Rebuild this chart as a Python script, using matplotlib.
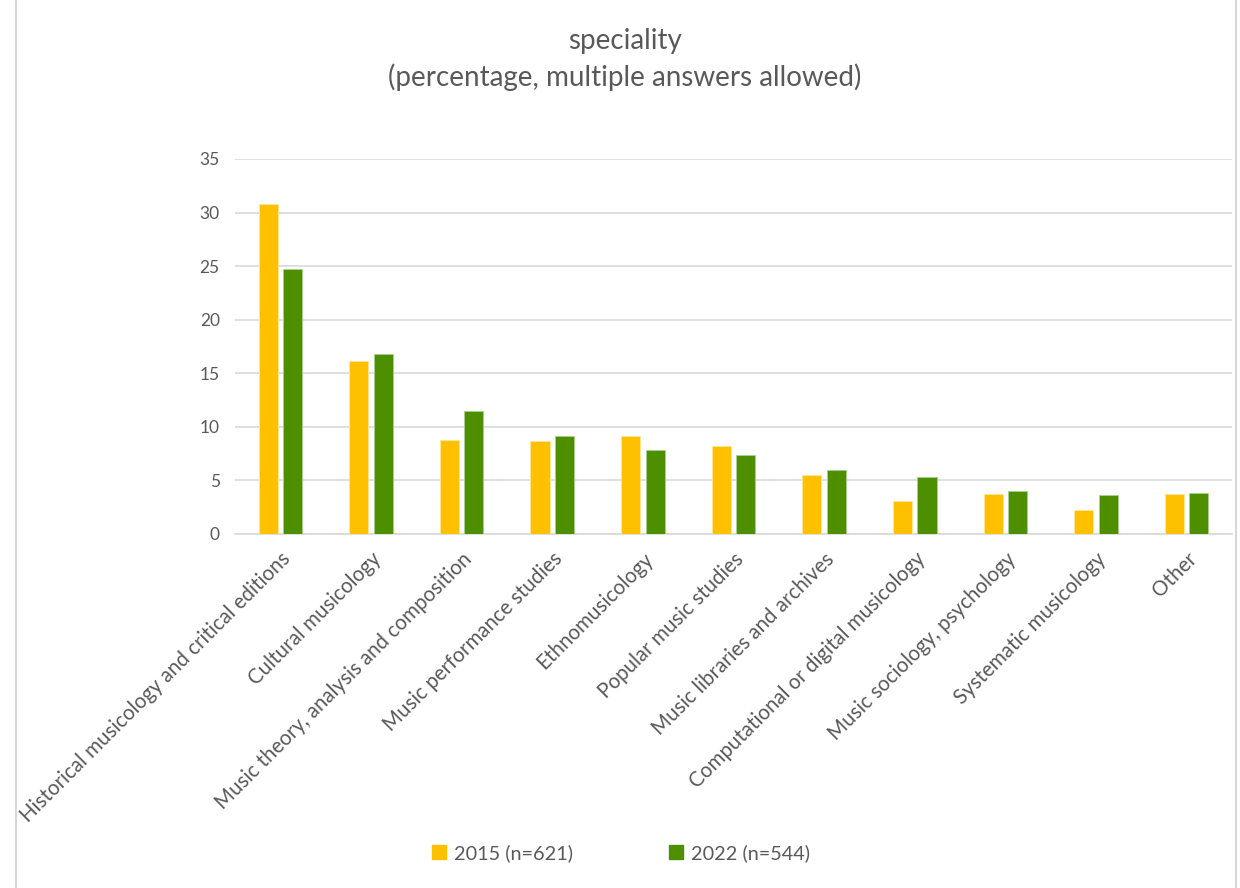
import matplotlib
matplotlib.use("Agg")
import matplotlib.pyplot as plt
import numpy as np
from matplotlib.lines import Line2D
from matplotlib.transforms import ScaledTranslation

plt.rcParams['font.family'] = ['Lato', 'DejaVu Sans']

categories = [
    'Historical musicology and critical editions',
    'Cultural musicology',
    'Music theory, analysis and composition',
    'Music performance studies',
    'Ethnomusicology',
    'Popular music studies',
    'Music libraries and archives',
    'Computational or digital musicology',
    'Music sociology, psychology',
    'Systematic musicology',
    'Other',
]
vals_2015 = [30.8, 16.1, 8.8, 8.7, 9.1, 8.2, 5.5, 3.1, 3.7, 2.2, 3.7]
vals_2022 = [24.7, 16.8, 11.5, 9.1, 7.8, 7.4, 6.0, 5.3, 4.0, 3.6, 3.8]
series_labels = ['2015 (n=621)', '2022 (n=544)']
yticks = [0, 5, 10, 15, 20, 25, 30, 35]

text_col = '#595959'
grid_col = '#d9d9d9'
yellow = '#ffc000'
green = '#4e8f00'

fig = plt.figure(figsize=(12.4, 8.88), dpi=100)
ax = fig.add_axes([235 / 1240, 1 - 534 / 888, (1232 - 235) / 1240, (534 - 159) / 888])

x = np.arange(len(categories))
w = 0.21
off = 0.135
ax.bar(x - off, vals_2015, w, color=yellow, edgecolor='#ffe699', linewidth=0.6, zorder=3)
ax.bar(x + off, vals_2022, w, color=green, edgecolor='#a9d08e', linewidth=0.6, zorder=3)

ax.set_xlim(-0.5, len(categories) - 0.5)
ax.set_ylim(0, 35)
ax.set_yticks(yticks)
ax.set_yticklabels([str(t) for t in yticks], color=text_col, fontsize=12.5)
ax.yaxis.grid(True, color=grid_col, linewidth=1.2, zorder=0)
ax.tick_params(axis='y', length=0, pad=11)
ax.tick_params(axis='x', length=0)
for s in ['top', 'right', 'left']:
    ax.spines[s].set_visible(False)
ax.spines['bottom'].set_color(grid_col)
ax.spines['bottom'].set_linewidth(1.2)

ax.set_xticks(x)
ax.set_xticklabels(categories, rotation=45, ha='right', va='top',
                   rotation_mode='anchor', fontsize=14.8, color=text_col)
for lbl in ax.get_xticklabels():
    lbl.set_transform(lbl.get_transform() + ScaledTranslation(0.0, -0.1, fig.dpi_scale_trans))

fig.text(0.504, 1 - 41 / 888, 'speciality', ha='center', va='center',
         fontsize=20, color=text_col)
fig.text(0.504, 1 - 77 / 888, '(percentage, multiple answers allowed)', ha='center',
         va='center', fontsize=20, color=text_col)

handles = [Line2D([], [], marker='s', linestyle='', markersize=10, color=yellow),
           Line2D([], [], marker='s', linestyle='', markersize=10, color=green)]
fig.legend(handles, series_labels, loc='center', bbox_to_anchor=(0.5, 1 - 853 / 888),
           ncol=2, frameon=False, fontsize=14.3, labelcolor=text_col,
           handletextpad=0.3, columnspacing=4.7, handlelength=0.9)

# chart border (left and right edges visible)
fig.add_artist(Line2D([16 / 1240, 16 / 1240], [0, 1], color='#d0d0d0', linewidth=1.2))
fig.add_artist(Line2D([1236 / 1240, 1236 / 1240], [0, 1], color='#d0d0d0', linewidth=1.2))

fig.savefig('out.png', dpi=100)
